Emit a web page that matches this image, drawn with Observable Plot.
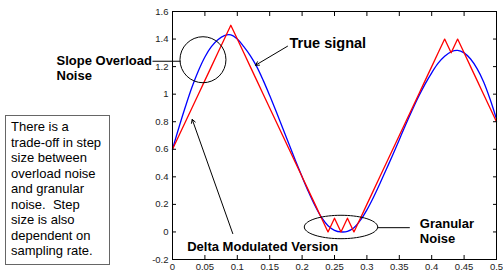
<!DOCTYPE html>
<html><head><meta charset="utf-8">
<script src="https://cdn.jsdelivr.net/npm/d3@7"></script>
<script src="https://cdn.jsdelivr.net/npm/@observablehq/plot@0.6"></script>
<style>
html,body{margin:0;padding:0;background:#fff;}
#wrap{position:relative;width:503px;height:276px;overflow:hidden;}
#note{position:absolute;left:5px;top:115px;width:105px;height:150px;box-sizing:border-box;border:1.5px solid #666;background:#fff;
font:13px Arial,"Liberation Sans",sans-serif;line-height:15.5px;padding:3px 0 0 5px;color:#000;white-space:nowrap;}
</style></head>
<body><div id="wrap"></div>
<script>
// sample times (s)
const tSamples = [0.00,0.01,0.02,0.03,0.04,0.05,0.06,0.07,0.08,0.09,
  0.10,0.11,0.12,0.13,0.14,0.15,0.16,0.17,0.18,0.19,
  0.20,0.21,0.22,0.23,0.24,0.25,0.26,0.27,0.28,0.29,
  0.30,0.31,0.32,0.33,0.34,0.35,0.36,0.37,0.38,0.39,
  0.40,0.41,0.42,0.43,0.44,0.45,0.46,0.47,0.48,0.49,0.50];
// true signal (blue)
const trueSignal = [0.60,0.76,0.91,1.05,1.17,1.27,1.345,1.395,1.425,1.43,
  1.40,1.345,1.28,1.20,1.10,0.99,0.875,0.755,0.635,0.515,
  0.40,0.29,0.19,0.105,0.045,0.012,0.0,0.004,0.03,0.085,
  0.16,0.25,0.35,0.455,0.56,0.67,0.78,0.885,0.985,1.075,
  1.155,1.225,1.275,1.308,1.318,1.30,1.255,1.185,1.09,0.965,0.82];
// delta modulated version (red)
const deltaMod = [0.6,0.7,0.8,0.9,1.0,1.1,1.2,1.3,1.4,1.5,
  1.4,1.3,1.2,1.1,1.0,0.9,0.8,0.7,0.6,0.5,
  0.4,0.3,0.2,0.1,0.0,0.1,0.0,0.1,0.0,0.1,
  0.2,0.3,0.4,0.5,0.6,0.7,0.8,0.9,1.0,1.1,
  1.2,1.3,1.4,1.3,1.4,1.3,1.2,1.1,1.0,0.9,0.8];

const xTicks = [0,0.05,0.1,0.15,0.2,0.25,0.3,0.35,0.4,0.45,0.5];
const xTickLabels = ["0","0.05","0.1","0.15","0.2","0.25","0.3","0.35","0.4","0.45","0.5"];
const yTicks = [-0.2,0,0.2,0.4,0.6,0.8,1,1.2,1.4,1.6];
const yTickLabels = ["-0.2","0","0.2","0.4","0.6","0.8","1","1.2","1.4","1.6"];

const noteLines = ["There is a","trade-off in step","size between","overload noise","and granular","noise.  Step","size is also","dependent on","sampling rate."];

// annotations (data coordinates)
const labels = [
  {t:-0.179, y:1.292, text:"Slope Overload\nNoise", size:13},
  {t:0.1806, y:1.425, text:"True signal", size:14.5},
  {t:0.0227, y:-0.058, text:"Delta Modulated Version", size:13},
  {t:0.3817, y:0.109, text:"Granular\nNoise", size:13}
];
const arrows = [
  {t1:0.1775, y1:1.348, t2:0.1281, y2:1.21},
  {t1:0.093, y1:-0.012, t2:0.0304, y2:0.817}
];
const leaders = [
  {t1:-0.0309, t2:0.0123, y:1.239},
  {t1:0.3168, t2:0.3662, y:0.031}
];
const overloadCircle = [{t:0.047, y:1.25}];
const granularEllipse = {t:0.260, y:0.036, rt:0.0566, ry:0.085};

const blue = tSamples.map((t,i)=>({t, v:trueSignal[i]}));
const red = tSamples.map((t,i)=>({t, v:deltaMod[i]}));
const ell = d3.range(0, 73).map(k => {
  const a = k/72*2*Math.PI;
  return {t: granularEllipse.t + granularEllipse.rt*Math.cos(a), y: granularEllipse.y + granularEllipse.ry*Math.sin(a)};
});
const xl = new Map(xTicks.map((v,i)=>[v,xTickLabels[i]]));
const yl = new Map(yTicks.map((v,i)=>[v,yTickLabels[i]]));

const tickStyle = {fontSize:9.5, fill:"#222"};
const chart = Plot.plot({
  width:503, height:276,
  marginLeft:172, marginRight:7, marginTop:11, marginBottom:17,
  style:{fontFamily:"Arial, 'Liberation Sans', sans-serif", background:"#fff", overflow:"visible"},
  x:{domain:[0,0.5]},
  y:{domain:[-0.2,1.6]},
  marks:[
    Plot.line(blue, {x:"t", y:"v", stroke:"#0000ff", strokeWidth:1.3, curve:"catmull-rom"}),
    Plot.line(red, {x:"t", y:"v", stroke:"#ff0000", strokeWidth:1.3}),
    Plot.axisX(xTicks, {anchor:"bottom", tickSize:0, tickPadding:4, tickFormat:d=>xl.get(d), label:null, ...tickStyle}),
    Plot.axisY(yTicks, {anchor:"left", tickSize:0, tickPadding:4, tickFormat:d=>yl.get(d), label:null, ...tickStyle}),
    Plot.axisX(xTicks, {anchor:"bottom", tickSize:-4, tickFormat:()=>"", label:null, stroke:"black"}),
    Plot.axisX(xTicks, {anchor:"top", tickSize:-4, tickFormat:()=>"", label:null, stroke:"black"}),
    Plot.axisY(yTicks, {anchor:"left", tickSize:-4, tickFormat:()=>"", label:null, stroke:"black"}),
    Plot.axisY(yTicks, {anchor:"right", tickSize:-4, tickFormat:()=>"", label:null, stroke:"black"}),
    Plot.frame({stroke:"black", strokeWidth:1}),
    Plot.dot(overloadCircle, {x:"t", y:"y", r:23, stroke:"black", fill:"none", strokeWidth:1}),
    Plot.line(ell, {x:"t", y:"y", stroke:"black", strokeWidth:1, curve:"catmull-rom"}),
    Plot.link(leaders, {x1:"t1", x2:"t2", y1:"y", y2:"y", stroke:"black", strokeWidth:1}),
    Plot.arrow(arrows, {x1:"t1", y1:"y1", x2:"t2", y2:"y2", stroke:"black", strokeWidth:1, headLength:6}),
    ...labels.map(d => Plot.text([d], {x:"t", y:"y", text:"text", textAnchor:"start", lineAnchor:"top", lineHeight:1.18, fontSize:d.size, fontWeight:"bold", fill:"#000"}))
  ]
});
const wrap = document.getElementById("wrap");
wrap.appendChild(chart);
const note = document.createElement("div");
note.id = "note";
note.innerHTML = noteLines.map(s=>s.replace(/  /g," &nbsp;")).join("<br>");
wrap.appendChild(note);
</script>
</body></html>
